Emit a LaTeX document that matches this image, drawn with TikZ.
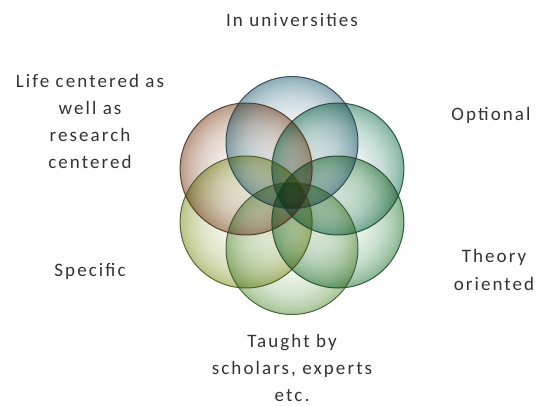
\documentclass[tikz,border=0pt]{standalone}
\usepackage{fontspec}
\setmainfont{Carlito}[LetterSpace=11]
\usetikzlibrary{positioning}

% petal colours
\definecolor{petalblue}{HTML}{44788A}
\definecolor{petalteal}{HTML}{2F8264}
\definecolor{petalgreen}{HTML}{3A874A}
\definecolor{petallime}{HTML}{6C9F52}
\definecolor{petalolive}{HTML}{8E9F38}
\definecolor{petalbrown}{HTML}{905C3A}

% white-centred bubble shading that deepens towards the rim
% (a path is covered by the inner 25bp radius of a radial shading)
\newcommand\bubbleshading[2]{%
  \pgfdeclareradialshading{bubble#1}{\pgfpoint{0bp}{0bp}}{%
    color(0bp)=(#2!6!white); color(9bp)=(#2!18!white);
    color(17bp)=(#2!45!white); color(22bp)=(#2!75!white);
    color(25bp)=(#2); color(50bp)=(#2)}}
\bubbleshading{blue}{petalblue}
\bubbleshading{teal}{petalteal}
\bubbleshading{green}{petalgreen}
\bubbleshading{lime}{petallime}
\bubbleshading{olive}{petalolive}
\bubbleshading{brown}{petalbrown}

\tikzset{
  petal/.style={circle, minimum size=132pt, inner sep=0pt, shade,
    shading=bubble#1, fill opacity=0.62, blend mode=multiply},
  rim/.style={draw=petal#1!50!black, draw opacity=0.85, line width=1pt},
  label text/.style={align=center, inner sep=0pt, anchor=base,
    text=black!80, font=\fontsize{19}{27}\selectfont}
}

\begin{document}
\begin{tikzpicture}[x=1pt, y=-1pt]
  \useasboundingbox (0,0) rectangle (539,405);

  % six overlapping petals around the flower centre (292,195.5)
  \node[petal=blue]  (pTop)   at (292,142.5) {};
  \node[petal=teal]  (pUR)    at (337.9,169) {};
  \node[petal=green] (pLR)    at (337.9,222) {};
  \node[petal=lime]  (pBot)   at (292,248.5) {};
  \node[petal=olive] (pLL)    at (246.1,222) {};
  \node[petal=brown] (pUL)    at (246.1,169) {};

  % rims drawn last so every outline stays visible through the overlaps
  \foreach \p/\c in {pTop/blue, pUR/teal, pLR/green, pBot/lime, pLL/olive, pUL/brown}
    \draw[rim=\c] (\p.center) circle[radius=66pt];

  % captions (multi-line blocks are placed by their last baseline)
  \node[label text] (tTop)   at (292,26.5) {In universities};
  \node[label text] (tUL)    at (90,168)   {Life centered as\\well as\\research\\centered};
  \node[label text] (tUR)    at (491,120)  {Optional};
  \node[label text] (tLL)    at (90,276)   {Specific};
  \node[label text, font=\fontsize{19}{28}\selectfont] (tLR) at (494,290) {Theory\\oriented};
  \node[label text] (tBot)   at (292,401)  {Taught by\\scholars, experts\\etc.};
\end{tikzpicture}
\end{document}
